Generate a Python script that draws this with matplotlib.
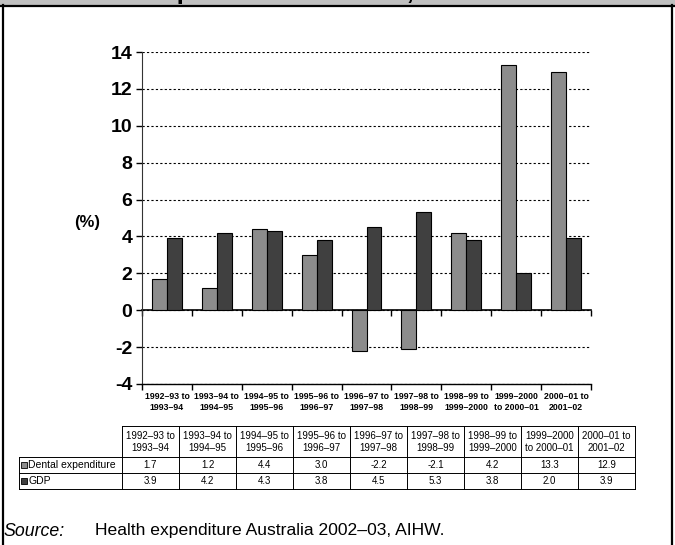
import matplotlib.pyplot as plt
import numpy as np
from matplotlib.patches import Rectangle

plt.rcParams['font.family'] = ['Liberation Sans', 'DejaVu Sans']

# data
periods = ['1992–93 to\n1993–94', '1993–94 to\n1994–95', '1994–95 to\n1995–96',
           '1995–96 to\n1996–97', '1996–97 to\n1997–98', '1997–98 to\n1998–99',
           '1998–99 to\n1999–2000', '1999–2000\nto 2000–01', '2000–01 to\n2001–02']
dental = [1.7, 1.2, 4.4, 3.0, -2.2, -2.1, 4.2, 13.3, 12.9]
gdp = [3.9, 4.2, 4.3, 3.8, 4.5, 5.3, 3.8, 2.0, 3.9]
series_names = ['Dental expenditure', 'GDP']
series_colors = ['#8c8c8c', '#404040']
yticks = [-4, -2, 0, 2, 4, 6, 8, 10, 12, 14]

W, H = 675, 545
fig = plt.figure(figsize=(W / 100, H / 100), dpi=100)

# page decoration, table and source note drawn in pixel coordinates
deco = fig.add_axes([0, 0, 1, 1], zorder=0)
deco.set_xlim(0, W)
deco.set_ylim(H, 0)
deco.axis('off')
deco.add_patch(Rectangle((0, 0), W, 5, facecolor='#c0c0c0', edgecolor='none'))
deco.plot([0, W], [5.5, 5.5], color='black', lw=1.6)
deco.plot([3, 3], [5, H], color='black', lw=1.6)
deco.plot([672, 672], [5, H], color='black', lw=1.6)
# title sits above the crop, only its descenders show (as in the reference)
fig.text(62 / W, 1 + 1 / H, 'Dental expenditure and GDP, 1992–93 to 2001–02',
         fontsize=18.5, fontweight='bold', ha='left', va='baseline')

# chart
ax = fig.add_axes([142 / W, 1 - 384 / H, (591 - 142) / W, (384 - 52) / H], zorder=1)
ax.patch.set_alpha(0)
x = np.arange(len(periods))
bw = 0.3
ax.bar(x - bw / 2, dental, bw, color=series_colors[0], edgecolor='black', lw=0.8, zorder=3)
ax.bar(x + bw / 2, gdp, bw, color=series_colors[1], edgecolor='black', lw=0.8, zorder=3)

ax.set_xlim(-0.5, len(periods) - 0.5)
ax.set_ylim(-4, 14)
ax.set_yticks(yticks)
ax.set_yticklabels([str(v) for v in yticks], fontsize=14, fontweight='bold')
ax.yaxis.grid(True, linestyle=(0, (2, 2)), color='black', lw=0.8)
ax.set_axisbelow(True)
ax.tick_params(axis='y', direction='out', length=4, width=1, pad=3)

ax.set_xticks(x)
ax.set_xticklabels(periods, fontsize=6.3, fontweight='bold', linespacing=1.25)
ax.set_xticks(np.arange(len(periods) + 1) - 0.5, minor=True)
ax.tick_params(axis='x', which='major', length=0, pad=6)
ax.tick_params(axis='x', which='minor', direction='out', length=4, width=1)
for s in ['top', 'right']:
    ax.spines[s].set_visible(False)
ax.spines['left'].set_color('#333333')
ax.spines['bottom'].set_linewidth(1)

# zero line with its own ticks
zero = ax.secondary_xaxis(4 / 18)
zero.set_xticks(np.arange(len(periods) + 1) - 0.5)
zero.set_xticklabels([])
zero.tick_params(direction='out', length=4, width=1)
zero.spines['bottom'].set_linewidth(1.2)

fig.text(87 / W, 1 - 222 / H, '(%)', fontsize=12, fontweight='bold', ha='center', va='center')

# data table
lab_l, col0, colw = 19, 122, 57
rows = [426, 457, 473, 489]
lw = 0.7
ncol = len(periods)
right = col0 + ncol * colw
deco.plot([col0, right], [rows[0], rows[0]], color='black', lw=lw)
for r in rows[1:]:
    deco.plot([lab_l, right], [r, r], color='black', lw=lw)
deco.plot([lab_l, lab_l], [rows[1], rows[3]], color='black', lw=lw)
for i in range(ncol + 1):
    deco.plot([col0 + i * colw] * 2, [rows[0], rows[3]], color='black', lw=lw)

for i, p in enumerate(periods):
    cx = col0 + (i + 0.5) * colw
    deco.text(cx, (rows[0] + rows[1]) / 2 + 0.5, p, fontsize=7, ha='center', va='center',
              linespacing=1.35)
    for j, vals in enumerate([dental, gdp]):
        deco.text(cx, (rows[j + 1] + rows[j + 2]) / 2 + 0.5, f'{vals[i]:.1f}',
                  fontsize=7, ha='center', va='center')

for j, name in enumerate(series_names):
    cy = (rows[j + 1] + rows[j + 2]) / 2
    deco.plot([24], [cy], marker='s', ms=4.3, mfc=series_colors[j], mec='black', mew=0.6)
    deco.text(28.5, cy + 0.5, name, fontsize=7.5, ha='left', va='center')

# source note
deco.text(4, 531, 'Source:', fontsize=12.8, style='italic', ha='left', va='center')
deco.text(95, 531, 'Health expenditure Australia 2002–03, AIHW.', fontsize=12.6,
          ha='left', va='center')

fig.savefig('out.png', dpi=100)
